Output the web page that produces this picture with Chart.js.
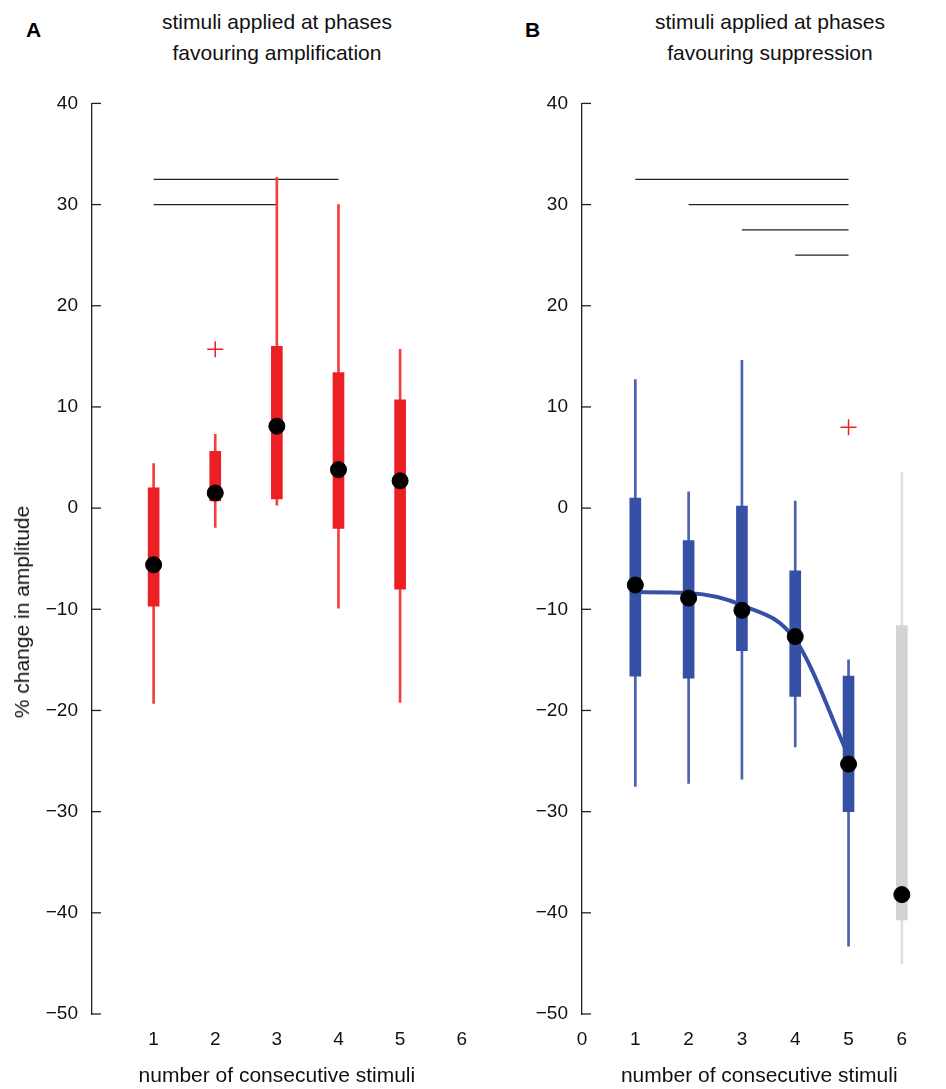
<!DOCTYPE html>
<html>
<head>
<meta charset="utf-8">
<script src="https://cdn.jsdelivr.net/npm/chart.js@4/dist/chart.umd.min.js"></script>
<style>
  body { margin: 0; background: #fff; width: 946px; height: 1089px; position: relative; overflow: hidden; font-family: "Liberation Sans", Arial, sans-serif; }
  .wrap { position: absolute; top: 86px; width: 473px; height: 1003px; }
  .title { position: absolute; top: 6px; text-align: center; font-size: 21px; line-height: 31px; color: #111; width: 380px; }
  .letter { position: absolute; top: 18px; font-size: 21px; font-weight: bold; }
  .ytitle { position: absolute; left: 22px; top: 612px; font-size: 21px; color: #111; white-space: nowrap; transform: translate(-50%, -50%) rotate(-90deg); }
</style>
</head>
<body>
<div class="letter" style="left:26px">A</div>
<div class="title" style="left:87px">stimuli applied at phases<br>favouring amplification</div>
<div class="letter" style="left:525px">B</div>
<div class="title" style="left:580px">stimuli applied at phases<br>favouring suppression</div>
<div class="wrap" style="left:0"><canvas id="chartA"></canvas></div>
<div class="wrap" style="left:473px"><canvas id="chartB"></canvas></div>
<div class="ytitle">% change in amplitude</div>
<script>
// panel A: stimuli at amplifying phases
const stimA = [1, 2, 3, 4, 5];
const whiskLoA = [-19.3, -1.9, 0.3, -9.9, -19.2];
const whiskHiA = [4.4, 7.3, 32.7, 30.0, 15.7];
const boxLoA = [-9.7, 0.7, 0.9, -2.0, -8.0];
const boxHiA = [2.0, 5.6, 16.0, 13.4, 10.7];
const medianA = [-5.6, 1.5, 8.1, 3.8, 2.7];
const outliersA = [{ x: 2, y: 15.7 }];
const sigA = [[1, 4, 32.5], [1, 3, 30]];

// panel B: stimuli at suppressing phases (6 = control, grey)
const stimB = [1, 2, 3, 4, 5, 6];
const whiskLoB = [-27.5, -27.2, -26.8, -23.6, -43.3, -45.0];
const whiskHiB = [12.7, 1.6, 14.6, 0.7, -15.0, 3.5];
const boxLoB = [-16.6, -16.8, -14.1, -18.6, -30.0, -40.7];
const boxHiB = [1.0, -3.2, 0.2, -6.2, -16.6, -11.6];
const medianB = [-7.6, -8.9, -10.1, -12.7, -25.3, -38.2];
const outliersB = [{ x: 5, y: 8 }];
const sigB = [[1, 5, 32.5], [2, 5, 30], [3, 5, 27.5], [4, 5, 25]];
const fitX = [1, 2, 3, 4, 5];
const fitY = [-8.3, -8.4, -9.6, -13.0, -24.5];

const yTicks = [40, 30, 20, 10, 0, -10, -20, -30, -40, -50];
const RED = '#ec2024', BLUE = '#3650a6', GREY = '#d3d3d3';

const font = { family: '"Liberation Sans", Arial, sans-serif', size: 19 };

const innerTicks = {
  id: 'innerTicks',
  afterDraw(chart) {
    const { ctx, chartArea, scales } = chart;
    ctx.save();
    ctx.strokeStyle = '#222';
    ctx.lineWidth = 1.3;
    yTicks.forEach(v => {
      const y = scales.y.getPixelForValue(v);
      ctx.beginPath();
      ctx.moveTo(chartArea.left, y);
      ctx.lineTo(chartArea.left + 9, y);
      ctx.stroke();
    });
    ctx.restore();
  }
};

function build(id, o) {
  const datasets = [];
  datasets.push({
    type: 'scatter', data: o.median.map((v, i) => ({ x: o.stim[i], y: v })),
    pointRadius: 8, pointBackgroundColor: '#000', pointBorderColor: '#000', order: 0
  });
  datasets.push({
    type: 'scatter', data: o.outliers, pointStyle: 'cross', pointRadius: 8,
    pointBorderColor: RED, pointBorderWidth: 1.5, order: 1
  });
  if (o.fitX) {
    datasets.push({
      type: 'line', data: o.fitX.map((x, i) => ({ x: x, y: o.fitY[i] })),
      borderColor: BLUE, borderWidth: 4, pointRadius: 0, cubicInterpolationMode: 'monotone', order: 1
    });
  }
  datasets.push({
    type: 'bar', data: o.boxLo.map((v, i) => ({ x: o.stim[i], y: [v, o.boxHi[i]] })),
    backgroundColor: o.colors, barThickness: 11, grouped: false, order: 2
  });
  datasets.push({
    type: 'bar', data: o.whiskLo.map((v, i) => ({ x: o.stim[i], y: [v, o.whiskHi[i]] })),
    backgroundColor: o.whiskColors, barThickness: 2, grouped: false, order: 3
  });
  o.sig.forEach(s => {
    datasets.push({
      type: 'line', data: [{ x: s[0], y: s[2] }, { x: s[1], y: s[2] }],
      borderColor: '#222', borderWidth: 1.3, pointRadius: 0, order: 4
    });
  });

  return new Chart(document.getElementById(id), {
    data: { datasets },
    options: {
      responsive: true, maintainAspectRatio: false, animation: false,
      layout: { padding: { top: 5, right: o.padRight } },
      plugins: { legend: { display: false }, tooltip: { enabled: false } },
      scales: {
        x: {
          type: 'linear', min: 0, max: o.xMax, offset: false,
          grid: { display: false }, border: { display: false },
          afterBuildTicks: s => { s.ticks = o.xTicks.map(v => ({ value: v })); },
          afterFit: s => { s.height = 75; },
          ticks: { color: '#111', font, padding: 6 },
          title: { display: true, text: 'number of consecutive stimuli', color: '#111',
                   font: { family: font.family, size: 21 }, padding: { bottom: 0, top: 0 } }
        },
        y: {
          min: -50, max: 40,
          grid: { display: false },
          border: { display: true, color: '#222', width: 1.3 },
          afterBuildTicks: s => { s.ticks = yTicks.map(v => ({ value: v })); },
          afterFit: s => { s.width = o.yWidth; },
          ticks: { color: '#111', font, padding: 6,
                   callback: v => String(v).replace('-', '\u2212') }
        }
      }
    },
    plugins: [innerTicks]
  });
}

build('chartA', {
  stim: stimA, whiskLo: whiskLoA, whiskHi: whiskHiA, boxLo: boxLoA, boxHi: boxHiA,
  median: medianA, outliers: outliersA, sig: sigA,
  colors: stimA.map(() => RED), whiskColors: stimA.map(() => '#f0403f'),
  xMax: 6, xTicks: [1, 2, 3, 4, 5, 6], yWidth: 92, padRight: 10
});
build('chartB', {
  stim: stimB, whiskLo: whiskLoB, whiskHi: whiskHiB, boxLo: boxLoB, boxHi: boxHiB,
  median: medianB, outliers: outliersB, sig: sigB, fitX, fitY,
  colors: stimB.map(s => s === 6 ? GREY : BLUE),
  whiskColors: stimB.map(s => s === 6 ? '#e2dede' : '#4a62b0'),
  xMax: 6.65, xTicks: [0, 1, 2, 3, 4, 5, 6], yWidth: 109, padRight: 0
});
</script>
</body>
</html>
